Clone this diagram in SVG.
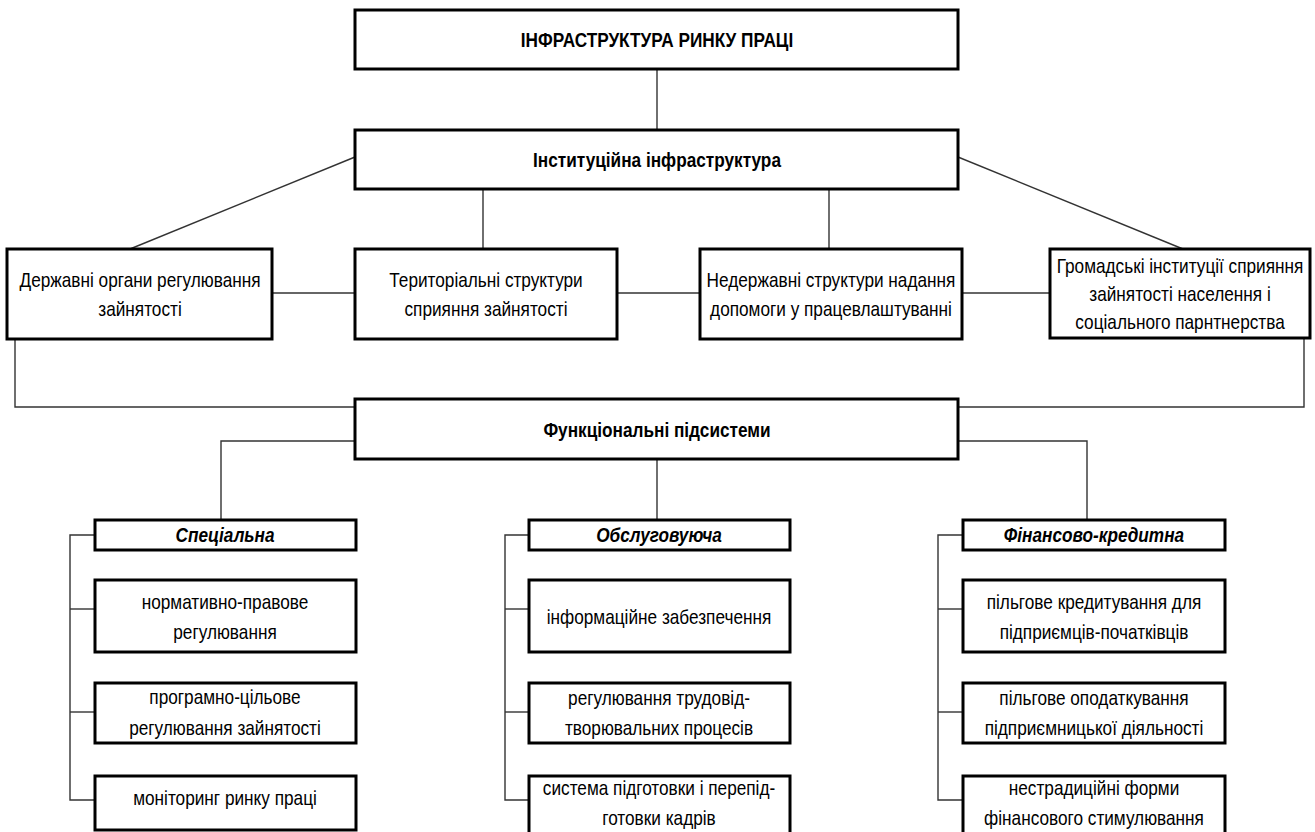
<svg xmlns="http://www.w3.org/2000/svg" width="1315" height="832" viewBox="0 0 1315 832">
<style>
.box{fill:#fff;stroke:#000;stroke-width:3}
.con{fill:none;stroke:#333;stroke-width:1.4}
text{font-family:"Liberation Sans",Arial,sans-serif;font-size:21px;fill:#000;text-anchor:middle}
.b{font-weight:bold}
.bi{font-weight:bold;font-style:italic}
</style>
<rect width="1315" height="832" fill="#fff"/>
<g id="connectors">
<line class="con" x1="657" y1="69" x2="657" y2="130"/>
<line class="con" x1="355" y1="157" x2="130" y2="249"/>
<line class="con" x1="958" y1="157" x2="1183" y2="249"/>
<line class="con" x1="483" y1="189" x2="483" y2="249"/>
<line class="con" x1="829" y1="189" x2="829" y2="249"/>
<line class="con" x1="272" y1="293" x2="355" y2="293"/>
<line class="con" x1="617" y1="293" x2="700" y2="293"/>
<line class="con" x1="962" y1="293" x2="1050" y2="293"/>
<polyline class="con" points="15,339 15,407 355,407"/>
<polyline class="con" points="1304,338 1304,407 958,407"/>
<polyline class="con" points="355,441 221,441 221,520"/>
<line class="con" x1="657" y1="460" x2="657" y2="520"/>
<polyline class="con" points="958,441 1087,441 1087,520"/>
<polyline class="con" points="95,535 70,535 70,800 95,800"/>
<line class="con" x1="70" y1="609" x2="95" y2="609"/>
<line class="con" x1="70" y1="712" x2="95" y2="712"/>
<polyline class="con" points="529,535 505,535 505,800 529,800"/>
<line class="con" x1="505" y1="609" x2="529" y2="609"/>
<line class="con" x1="505" y1="712" x2="529" y2="712"/>
<polyline class="con" points="963,535 938,535 938,800 963,800"/>
<line class="con" x1="938" y1="609" x2="963" y2="609"/>
<line class="con" x1="938" y1="712" x2="963" y2="712"/>
</g>
<g id="n-top"><rect class="box" x="355" y="10" width="603" height="59"/><text class="b" transform="translate(657,47) scale(0.82,1)">ІНФРАСТРУКТУРА РИНКУ ПРАЦІ</text></g>
<g id="n-inst"><rect class="box" x="355" y="130" width="603" height="59"/><text class="b" transform="translate(657,167) scale(0.82,1)">Інституційна інфраструктура</text></g>
<g id="n-derzh"><rect class="box" x="7" y="249" width="265" height="90"/><text transform="translate(140,287) scale(0.82,1)">Державні органи регулювання</text><text transform="translate(140,316) scale(0.82,1)">зайнятості</text></g>
<g id="n-terit"><rect class="box" x="355" y="249" width="262" height="90"/><text transform="translate(486,287) scale(0.82,1)">Територіальні структури</text><text transform="translate(486,316) scale(0.82,1)">сприяння зайнятості</text></g>
<g id="n-nederzh"><rect class="box" x="700" y="249" width="262" height="90"/><text transform="translate(831,287) scale(0.82,1)">Недержавні структури надання</text><text transform="translate(831,316) scale(0.82,1)">допомоги у працевлаштуванні</text></g>
<g id="n-hromad"><rect class="box" x="1050" y="249" width="260" height="89"/><text transform="translate(1180,273) scale(0.82,1)">Громадські інституції сприяння</text><text transform="translate(1180,301) scale(0.82,1)">зайнятості населення і</text><text transform="translate(1180,329) scale(0.82,1)">соціального парнтнерства</text></g>
<g id="n-func"><rect class="box" x="355" y="399" width="603" height="60"/><text class="b" transform="translate(657,437) scale(0.82,1)">Функціональні підсистеми</text></g>
<g id="n-spec"><rect class="box" x="95" y="520" width="261" height="30"/><text class="bi" transform="translate(225,542) scale(0.82,1)">Спеціальна</text></g>
<g id="n-spec1"><rect class="box" x="95" y="580" width="261" height="72"/><text transform="translate(225,609) scale(0.82,1)">нормативно-правове</text><text transform="translate(225,639) scale(0.82,1)">регулювання</text></g>
<g id="n-spec2"><rect class="box" x="95" y="683" width="261" height="60"/><text transform="translate(225,704) scale(0.82,1)">програмно-цільове</text><text transform="translate(225,735) scale(0.82,1)">регулювання зайнятості</text></g>
<g id="n-spec3"><rect class="box" x="95" y="776" width="261" height="54"/><text transform="translate(225,805) scale(0.82,1)">моніторинг ринку праці</text></g>
<g id="n-obsl"><rect class="box" x="529" y="520" width="261" height="30"/><text class="bi" transform="translate(659,542) scale(0.82,1)">Обслуговуюча</text></g>
<g id="n-obsl1"><rect class="box" x="529" y="580" width="261" height="72"/><text transform="translate(659,624) scale(0.82,1)">інформаційне забезпечення</text></g>
<g id="n-obsl2"><rect class="box" x="529" y="683" width="261" height="60"/><text transform="translate(659,705) scale(0.82,1)">регулювання трудовід-</text><text transform="translate(659,735) scale(0.82,1)">творювальних процесів</text></g>
<g id="n-obsl3"><rect class="box" x="529" y="776" width="261" height="60"/><text transform="translate(659,795) scale(0.82,1)">система підготовки і перепід-</text><text transform="translate(659,825) scale(0.82,1)">готовки кадрів</text></g>
<g id="n-fin"><rect class="box" x="963" y="520" width="262" height="30"/><text class="bi" transform="translate(1094,542) scale(0.82,1)">Фінансово-кредитна</text></g>
<g id="n-fin1"><rect class="box" x="963" y="580" width="262" height="72"/><text transform="translate(1094,609) scale(0.82,1)">пільгове кредитування для</text><text transform="translate(1094,639) scale(0.82,1)">підприємців-початківців</text></g>
<g id="n-fin2"><rect class="box" x="963" y="683" width="262" height="60"/><text transform="translate(1094,705) scale(0.82,1)">пільгове оподаткування</text><text transform="translate(1094,735) scale(0.82,1)">підприємницької діяльності</text></g>
<g id="n-fin3"><rect class="box" x="963" y="776" width="262" height="60"/><text transform="translate(1094,795) scale(0.82,1)">нестрадиційні форми</text><text transform="translate(1094,825) scale(0.82,1)">фінансового стимулювання</text></g>
</svg>
